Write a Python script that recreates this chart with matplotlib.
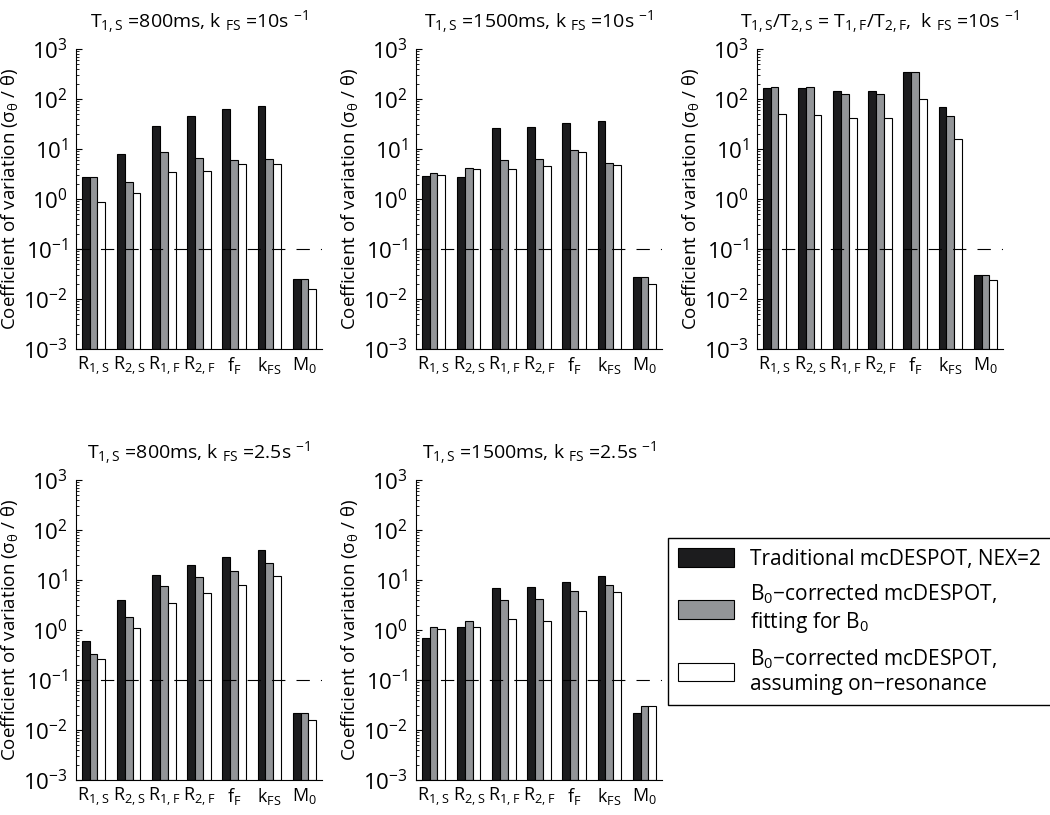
import numpy as np
import matplotlib
matplotlib.use('Agg')
import matplotlib.pyplot as plt
from matplotlib.ticker import FixedLocator, NullFormatter

plt.rcParams['font.family'] = ['Open Sans', 'DejaVu Sans']
plt.rcParams['mathtext.fontset'] = 'custom'
plt.rcParams['mathtext.rm'] = 'Open Sans'
plt.rcParams['mathtext.it'] = 'Open Sans'
plt.rcParams['mathtext.bf'] = 'Open Sans'

# parameter names on the x axis
params = [r'R$_{1,S}$', r'R$_{2,S}$', r'R$_{1,F}$', r'R$_{2,F}$', r'f$_{F}$', r'k$_{FS}$', r'M$_{0}$']

# coefficient of variation (R1S R2S R1F R2F fF kFS M0)
p1_trad = [2.8, 7.9, 29, 45, 63, 73, 0.024]
p1_fitb0 = [2.8, 2.2, 8.8, 6.6, 6.1, 6.4, 0.024]
p1_onres = [0.86, 1.34, 3.4, 3.7, 4.9, 5.1, 0.0145]

p2_trad = [2.9, 2.7, 26, 27, 33, 37, 0.027]
p2_fitb0 = [3.3, 4.1, 6.1, 6.3, 9.4, 5.3, 0.027]
p2_onres = [3.0, 3.9, 3.9, 4.5, 8.6, 4.7, 0.0185]

p3_trad = [163, 163, 142, 142, 341, 68, 0.029]
p3_fitb0 = [174, 170, 128, 128, 341, 45, 0.029]
p3_onres = [49, 48, 41, 41, 100, 15.6, 0.0226]

p4_trad = [0.61, 3.9, 12.4, 20.3, 28.4, 40, 0.0212]
p4_fitb0 = [0.33, 1.8, 7.6, 11.5, 15.1, 21.5, 0.0212]
p4_onres = [0.26, 1.08, 3.5, 5.6, 7.8, 11.8, 0.0147]

p5_trad = [0.70, 1.17, 6.9, 7.2, 9.3, 12.0, 0.0212]
p5_fitb0 = [1.17, 1.51, 3.9, 4.2, 6.1, 7.9, 0.0297]
p5_onres = [1.03, 1.17, 1.66, 1.54, 2.4, 5.7, 0.0297]

titles = [
    r'T$_{1,S}$ =800ms, k $_{FS}$ =10s $^{-1}$',
    r'T$_{1,S}$ =1500ms, k $_{FS}$ =10s $^{-1}$',
    r'T$_{1,S}$/T$_{2,S}$ = T$_{1,F}$/T$_{2,F}$,  k $_{FS}$ =10s $^{-1}$',
    r'T$_{1,S}$ =800ms, k $_{FS}$ =2.5s $^{-1}$',
    r'T$_{1,S}$ =1500ms, k $_{FS}$ =2.5s $^{-1}$',
]
panels = [
    (p1_trad, p1_fitb0, p1_onres),
    (p2_trad, p2_fitb0, p2_onres),
    (p3_trad, p3_fitb0, p3_onres),
    (p4_trad, p4_fitb0, p4_onres),
    (p5_trad, p5_fitb0, p5_onres),
]
legend_labels = [
    'Traditional mcDESPOT, NEX=2',
    'B$_{0}$\u2212corrected mcDESPOT,\nfitting for B$_{0}$',
    'B$_{0}$\u2212corrected mcDESPOT,\nassuming on\u2212resonance',
]
threshold = 0.1
exponents = [-3, -2, -1, 0, 1, 2, 3]

colors = ['#1c1c1e', '#939598', 'white']

W, H = 1050, 815
fig = plt.figure(figsize=(W / 100, H / 100), dpi=100)

# axes rectangles in pixels: left, top
lefts = [76, 416, 757, 76, 416]
tops = [49, 49, 49, 480, 480]
aw, ah = 246, 300

x = np.arange(1, len(params) + 1)
bw = 0.222
major = [10.0 ** e for e in exponents]
minor = [m * 10.0 ** e for e in exponents[:-1] for m in range(2, 10)]
handles = None
for i, (title, series) in enumerate(zip(titles, panels)):
    ax = fig.add_axes([lefts[i] / W, 1 - (tops[i] + ah) / H, aw / W, ah / H])
    bars = []
    for j, vals in enumerate(series):
        b = ax.bar(x + (j - 1) * bw, vals, width=bw, color=colors[j],
                   edgecolor='black', linewidth=0.8, bottom=1e-3, zorder=2)
        bars.append(b)
    handles = bars
    ax.axhline(threshold, color='black', linestyle=(0, (12, 10)), linewidth=0.8, zorder=3)
    ax.set_yscale('log')
    ax.set_ylim(1e-3, 1e3)
    ax.set_xlim(0.5, 7.5)
    ax.yaxis.set_major_locator(FixedLocator(major))
    ax.set_yticklabels([r'$\mathregular{10^{%d}}$' % e for e in exponents])
    ax.yaxis.set_minor_locator(FixedLocator(minor))
    ax.yaxis.set_minor_formatter(NullFormatter())
    ax.set_xticks(x)
    ax.set_xticklabels(params, fontsize=13)
    ax.tick_params(axis='x', length=0, pad=4)
    ax.tick_params(axis='y', which='major', direction='in', length=4, labelsize=16, pad=6)
    ax.tick_params(axis='y', which='minor', direction='in', length=2)
    ax.spines['top'].set_visible(False)
    ax.spines['right'].set_visible(False)
    ax.set_ylabel('Coefficient of variation (\u03c3$_{\u03b8}$ / \u03b8)', fontsize=13.5, labelpad=2)
    ax.set_title(title, fontsize=14, pad=15)

fig.legend(handles, legend_labels, loc='upper left',
           bbox_to_anchor=(668 / W, 1 - 538 / H), fontsize=15,
           frameon=True, fancybox=False, edgecolor='black', framealpha=1,
           handlelength=2.65, handleheight=1.0, labelspacing=0.6,
           borderpad=0.5, handletextpad=0.8, borderaxespad=0)

fig.savefig('out.png', dpi=100)
